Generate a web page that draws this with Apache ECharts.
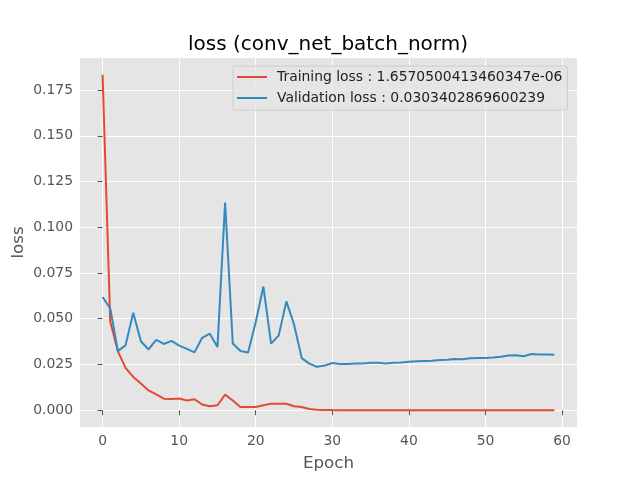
<!DOCTYPE html>
<html lang="en">
<head>
<meta charset="UTF-8">
<title>loss (conv_net_batch_norm)</title>
<script src="https://cdn.jsdelivr.net/npm/echarts@6/dist/echarts.min.js"></script>
<style>
  html, body { margin: 0; padding: 0; background: #fff; }
</style>
</head>
<body>
<div id="chart" style="width:640px;height:480px"></div>
<script type="text/javascript">
// values
var epochs = [];
for (var i = 0; i < 60; i++) epochs.push(i);

var trainLoss = [
  0.1833, 0.0483, 0.0322, 0.0231, 0.0182, 0.0146, 0.0108, 0.0086, 0.0063, 0.0062,
  0.0064, 0.0053, 0.0060, 0.0031, 0.0022, 0.0027, 0.0085, 0.0053, 0.0018, 0.0018,
  0.0018, 0.0027, 0.0036, 0.0035, 0.0035, 0.0022, 0.0018, 0.0007, 0.0002, 0.00008,
  0.00006, 0.00005, 0.00004, 0.00003, 0.00003, 0.00002, 0.00002, 0.00002, 0.00001, 0.00001,
  0.00001, 0.00001, 0.000009, 0.000008, 0.000007, 0.000007, 0.000006, 0.000005, 0.000005, 0.000004,
  0.000004, 0.000003, 0.000003, 0.000003, 0.000002, 0.000002, 0.000002, 0.000002, 0.0000018, 0.0000016570500413460347
];

var valLoss = [
  0.0619, 0.0556, 0.0323, 0.0355, 0.0533, 0.0377, 0.0332, 0.0384, 0.0362, 0.0379,
  0.0353, 0.0335, 0.0316, 0.0396, 0.0418, 0.0345, 0.1135, 0.0365, 0.0324, 0.0316,
  0.0482, 0.0676, 0.0364, 0.0409, 0.0595, 0.0469, 0.0285, 0.0255, 0.0237, 0.0244,
  0.0258, 0.0253, 0.0253, 0.0255, 0.0255, 0.0259, 0.0260, 0.0255, 0.0259, 0.0261,
  0.0265, 0.0267, 0.0269, 0.0271, 0.0274, 0.0276, 0.0280, 0.0278, 0.0284, 0.0286,
  0.0286, 0.0288, 0.0292, 0.0299, 0.0301, 0.0295, 0.0307, 0.0305, 0.0305, 0.0303402869600239
];

var xTicks = [0, 10, 20, 30, 40, 50, 60];
var yTicks = [0, 0.025, 0.05, 0.075, 0.1, 0.125, 0.15, 0.175];

var trainName = 'Training loss : 1.6570500413460347e-06';
var valName = 'Validation loss : 0.0303402869600239';

function pairs(xs, ys) {
  return xs.map(function (x, i) { return [x, ys[i]]; });
}

var font = 'DejaVu Sans';
var chart = echarts.init(document.getElementById('chart'));
chart.setOption({
  animation: false,
  backgroundColor: '#ffffff',
  title: {
    text: 'loss (conv_net_batch_norm)',
    left: 323, top: 30, textAlign: 'center',
    textStyle: { fontFamily: font, fontSize: 20, fontWeight: 'normal', color: '#000' }
  },
  legend: {
    orient: 'vertical',
    left: 233, top: 66,
    data: [trainName, valName],
    icon: 'rect',
    itemWidth: 30, itemHeight: 2,
    itemGap: 5,
    padding: [3, 5, 4, 4],
    backgroundColor: 'rgba(229,229,229,0.8)',
    borderColor: '#cccccc', borderWidth: 1, borderRadius: 3,
    textStyle: { fontFamily: font, fontSize: 13.9, color: '#222', lineHeight: 16, padding: [0, 0, 0, 5] }
  },
  grid: {
    left: 80, right: 63, top: 58, bottom: 53,
    outerBoundsMode: 'none', containLabel: false,
    show: true, backgroundColor: '#e5e5e5', borderWidth: 0
  },
  xAxis: {
    type: 'value',
    min: -2.95, max: 61.95,
    name: 'Epoch', nameLocation: 'middle', nameGap: 28,
    nameTextStyle: { fontFamily: font, fontSize: 16.7, color: '#555' },
    axisLine: { show: false },
    axisTick: { show: true, length: 5, customValues: xTicks, lineStyle: { color: '#555' } },
    axisLabel: { customValues: xTicks, fontFamily: font, fontSize: 13.9, color: '#555', margin: 7 },
    splitLine: { show: true, lineStyle: { color: '#fff', width: 1 } }
  },
  yAxis: {
    type: 'value',
    min: -0.00917, max: 0.1925,
    name: 'loss', nameLocation: 'middle', nameGap: 53, nameMoveOverlap: false,
    nameTextStyle: { fontFamily: font, fontSize: 16.7, color: '#555' },
    axisLine: { show: false },
    axisTick: { show: true, length: 5, customValues: yTicks, lineStyle: { color: '#555' } },
    axisLabel: {
      customValues: yTicks, fontFamily: font, fontSize: 13.9, color: '#555', margin: 7,
      formatter: function (v) { return v.toFixed(3); }
    },
    splitLine: { show: true, lineStyle: { color: '#fff', width: 1 } }
  },
  series: [
    {
      name: trainName, type: 'line', data: pairs(epochs, trainLoss),
      symbol: 'none', color: '#E24A33', lineStyle: { width: 2 }
    },
    {
      name: valName, type: 'line', data: pairs(epochs, valLoss),
      symbol: 'none', color: '#348ABD', lineStyle: { width: 2 }
    }
  ]
});
</script>
</body>
</html>
